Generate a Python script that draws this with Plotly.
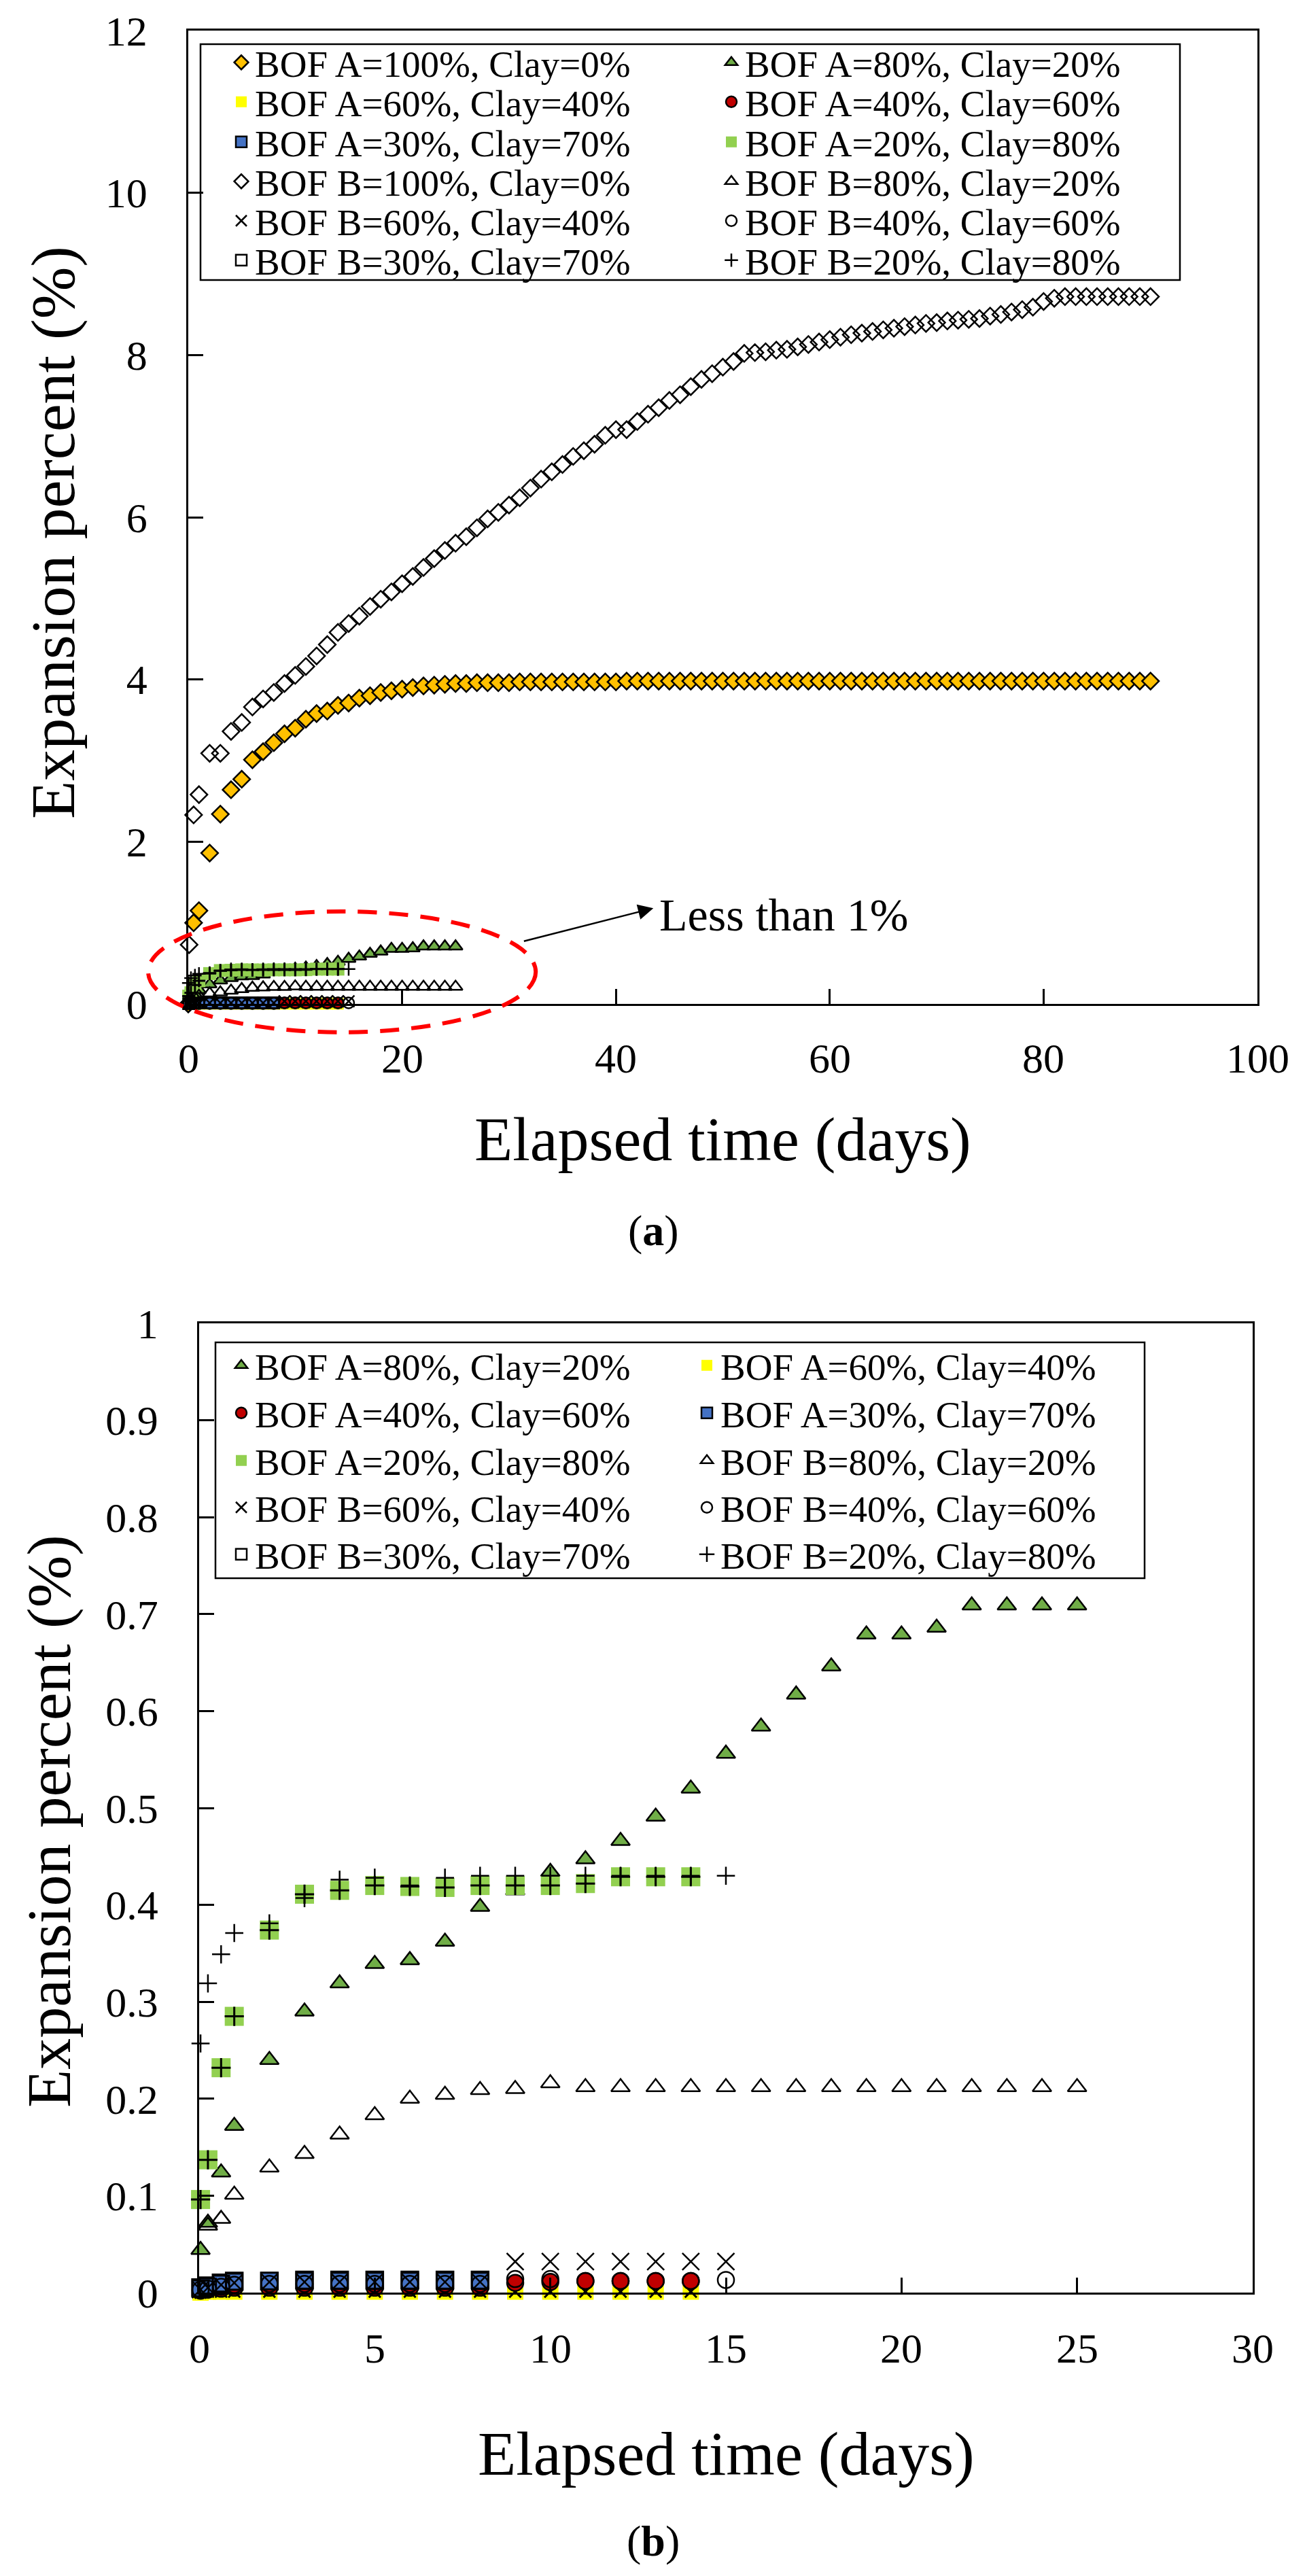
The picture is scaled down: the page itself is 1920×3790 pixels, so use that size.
import plotly.graph_objects as go

W, H = 1920, 3790
FONT = "Liberation Serif"

# ---- data ----
days_a100 = [0, 0.5, 1, 2, 3, 4, 5, 6, 7, 8, 9, 10,
             11, 12, 13, 14, 15, 16, 17, 18, 19, 20,
             21, 22, 23, 24, 25, 26, 27, 28, 29, 30,
             31, 32, 33, 34, 35, 36, 37, 38, 39, 40,
             41, 42, 43, 44, 45, 46, 47, 48, 49, 50,
             51, 52, 53, 54, 55, 56, 57, 58, 59, 60,
             61, 62, 63, 64, 65, 66, 67, 68, 69, 70,
             71, 72, 73, 74, 75, 76, 77, 78, 79, 80,
             81, 82, 83, 84, 85, 86, 87, 88, 89, 90]
exp_a100 = [0, 1.00, 1.15, 1.86, 2.34, 2.64, 2.77, 3.01, 3.11, 3.22, 3.33, 3.40,
            3.51, 3.58, 3.61, 3.68, 3.71, 3.77, 3.80, 3.84, 3.86, 3.88,
            3.90, 3.92, 3.93, 3.94, 3.95, 3.95, 3.96, 3.96, 3.96, 3.96,
            3.97, 3.97, 3.97, 3.97, 3.97, 3.97, 3.97, 3.97, 3.97, 3.97,
            3.98, 3.98, 3.98, 3.98, 3.98, 3.98, 3.98, 3.98, 3.98, 3.98,
            3.98, 3.98, 3.98, 3.98, 3.98, 3.98, 3.98, 3.98, 3.98, 3.98,
            3.98, 3.98, 3.98, 3.98, 3.98, 3.98, 3.98, 3.98, 3.98, 3.98,
            3.98, 3.98, 3.98, 3.98, 3.98, 3.98, 3.98, 3.98, 3.98, 3.98,
            3.98, 3.98, 3.98, 3.98, 3.98, 3.98, 3.98, 3.98, 3.98, 3.98]

days_b100 = [0, 0.08, 0.5, 1, 2, 3, 4, 5, 6, 7, 8, 9, 10,
             11, 12, 13, 14, 15, 16, 17, 18, 19, 20,
             21, 22, 23, 24, 25, 26, 27, 28, 29, 30,
             31, 32, 33, 34, 35, 36, 37, 38, 39, 40,
             41, 42, 43, 44, 45, 46, 47, 48, 49, 50,
             51, 52, 53, 54, 55, 56, 57, 58, 59, 60,
             61, 62, 63, 64, 65, 66, 67, 68, 69, 70,
             71, 72, 73, 74, 75, 76, 77, 78, 79, 80,
             81, 82, 83, 84, 85, 86, 87, 88, 89, 90]
exp_b100 = [0, 0.73, 2.33, 2.58, 3.09, 3.09, 3.36, 3.47, 3.66, 3.76, 3.84, 3.95, 4.05,
            4.16, 4.29, 4.43, 4.58, 4.69, 4.78, 4.90, 4.99, 5.08, 5.18,
            5.27, 5.38, 5.49, 5.59, 5.68, 5.76, 5.87, 5.98, 6.06, 6.15,
            6.24, 6.36, 6.47, 6.56, 6.65, 6.75, 6.82, 6.90, 7.01, 7.08,
            7.08, 7.18, 7.27, 7.35, 7.44, 7.51, 7.61, 7.70, 7.77, 7.85,
            7.92, 8.02, 8.03, 8.04, 8.06, 8.07, 8.10, 8.13, 8.16, 8.19,
            8.22, 8.25, 8.27, 8.29, 8.31, 8.33, 8.35, 8.37, 8.39, 8.40,
            8.42, 8.43, 8.44, 8.45, 8.48, 8.50, 8.53, 8.56, 8.59, 8.66,
            8.70, 8.72, 8.72, 8.72, 8.72, 8.72, 8.72, 8.72, 8.72, 8.72]

# mixtures, 0-25 days
days_mix = [0.04, 0.25, 0.625, 1, 2, 3, 4, 5, 6, 7, 8, 9, 10,
            11, 12, 13, 14, 15, 16, 17, 18, 19, 20, 21, 22, 23, 24, 25]
exp_a80 = [0.044, 0.072, 0.124, 0.172, 0.240, 0.290, 0.319, 0.339, 0.343, 0.362, 0.398, 0.415, 0.434,
           0.447, 0.466, 0.491, 0.520, 0.556, 0.584, 0.617, 0.646, 0.679, 0.679, 0.686, 0.709, 0.709, 0.709, 0.709]
exp_a60 = [0.000, 0.001, 0.001, 0.001, 0.001, 0.001, 0.001, 0.001, 0.001, 0.001, 0.001, 0.001, 0.001,
           0.001, 0.001, 0.001, 0.001]
exp_a40 = [0.002, 0.003, 0.004, 0.005, 0.005, 0.005, 0.005, 0.005, 0.005, 0.005, 0.005, 0.010, 0.011,
           0.012, 0.012, 0.012, 0.012]
exp_a30 = [0.005, 0.007, 0.010, 0.012, 0.012, 0.013, 0.013, 0.013, 0.013, 0.013, 0.013]
exp_a20 = [0.096, 0.137, 0.232, 0.285, 0.374, 0.411, 0.415, 0.420, 0.419, 0.418, 0.420, 0.420, 0.420,
           0.422, 0.429, 0.429, 0.429]
exp_b80 = [0.069, 0.076, 0.101, 0.129, 0.143, 0.163, 0.183, 0.200, 0.204, 0.209, 0.210, 0.216,
           0.212, 0.212, 0.212, 0.212, 0.212, 0.212, 0.212, 0.212, 0.212, 0.212, 0.212, 0.212, 0.212, 0.212, 0.212]
exp_b60 = [0.003, 0.005, 0.008, 0.010, 0.011, 0.011, 0.011, 0.011, 0.011, 0.011, 0.011, 0.032, 0.032,
           0.032, 0.032, 0.032, 0.032, 0.032]
exp_b40 = [0.003, 0.004, 0.006, 0.008, 0.009, 0.009, 0.009, 0.009, 0.009, 0.009, 0.009, 0.014, 0.014,
           0.012, 0.012, 0.012, 0.012, 0.013]
exp_b30 = [0.004, 0.006, 0.009, 0.011, 0.012, 0.012, 0.012, 0.012, 0.012, 0.012, 0.012]
exp_b20 = [0.257, 0.319, 0.349, 0.371, 0.381, 0.407, 0.426, 0.428, 0.420, 0.428, 0.430, 0.430, 0.430,
           0.430, 0.430, 0.430, 0.430, 0.430]

# x tick values of the two panels
xticks_a = [0, 20, 40, 60, 80, 100]
xticks_b = [0, 5, 10, 15, 20, 25, 30]

series = {
    "a100": ("BOF A=100%, Clay=0%", days_a100, exp_a100),
    "a80": ("BOF A=80%, Clay=20%", days_mix, exp_a80),
    "a60": ("BOF A=60%, Clay=40%", days_mix[:len(exp_a60)], exp_a60),
    "a40": ("BOF A=40%, Clay=60%", days_mix[:len(exp_a40)], exp_a40),
    "a30": ("BOF A=30%, Clay=70%", days_mix[:len(exp_a30)], exp_a30),
    "a20": ("BOF A=20%, Clay=80%", days_mix[:len(exp_a20)], exp_a20),
    "b100": ("BOF B=100%, Clay=0%", days_b100, exp_b100),
    "b80": ("BOF B=80%, Clay=20%", days_mix[1:], exp_b80),
    "b60": ("BOF B=60%, Clay=40%", days_mix[:len(exp_b60)], exp_b60),
    "b40": ("BOF B=40%, Clay=60%", days_mix[:len(exp_b40)], exp_b40),
    "b30": ("BOF B=30%, Clay=70%", days_mix[:len(exp_b30)], exp_b30),
    "b20": ("BOF B=20%, Clay=80%", days_mix[:len(exp_b20)], exp_b20),
}
order_a = ["a100", "a80", "a60", "a40", "a30", "a20", "b100", "b80", "b60", "b40", "b30", "b20"]
order_b = ["a80", "a60", "a40", "a30", "a20", "b80", "b60", "b40", "b30", "b20"]

# symbol, fill, outline width, size in (a), size in (b), overlay symbol drawn over a filled square
style = {
    "a100": ("diamond", "#FFC000", 2.5, 19, 19, None),
    "a80": ("triangle-up", "#70AD47", 2.5, 18, 24, None),
    "a60": ("square", "#FFFF00", 0, 17, 24, "x-thin-open"),
    "a40": ("circle", "#C00000", 2.5, 16, 24, None),
    "a30": ("square", "#4472C4", 2.5, 16, 25, None),
    "a20": ("square", "#92D050", 0, 19, 28, "cross-thin-open"),
    "b100": ("diamond-open", "black", 2.5, 19, 19, None),
    "b80": ("triangle-up-open", "black", 2.5, 18, 24, None),
    "b60": ("x-thin-open", "black", 2.5, 17, 25, None),
    "b40": ("circle-open", "black", 2.5, 16, 24, None),
    "b30": ("square-open", "black", 2.5, 16, 24, None),
    "b20": ("cross-thin-open", "black", 2.5, 14, 19, None),
}

# ---- layout geometry (pixels) ----
A_L, A_T, A_R, A_B = 277, 45, 1850, 1477
B_L, B_T, B_R, B_B = 293, 1947, 1843, 3373
LEG_A = dict(box=(295, 65, 1736, 412), rows=[92, 150, 209, 267, 325, 383], x=335, ew=676)
LEG_B = dict(box=(317, 1975, 1684, 2322), rows=[2009, 2079, 2149, 2218, 2287], x=335, ew=640)

fig = go.Figure()


def add_panel(order, xa, ya, legend_ids, which):
    for i, key in enumerate(order):
        name, xs, ys = series[key]
        sym, fill, lw, size_a, size_b, over = style[key]
        size = size_a if which == "a" else size_b
        leg = legend_ids[i // 2]
        fig.add_trace(go.Scatter(
            x=xs, y=ys, mode="markers", name=name, xaxis=xa, yaxis=ya,
            legend=leg, cliponaxis=False,
            marker=dict(symbol=sym, color=fill, size=size,
                        line=dict(color="black", width=lw)),
        ))
        if over:
            fig.add_trace(go.Scatter(
                x=xs, y=ys, mode="markers", xaxis=xa, yaxis=ya, showlegend=False,
                legend=leg, cliponaxis=False, hoverinfo="skip",
                marker=dict(symbol=over, color="black", size=size * 0.72,
                            line=dict(color="black", width=3)),
            ))


legs_a = ["legend", "legend2", "legend3", "legend4", "legend5", "legend6"]
legs_b = ["legend7", "legend8", "legend9", "legend10", "legend11"]
add_panel(order_a, "x", "y", legs_a, "a")
add_panel(order_b, "x2", "y2", legs_b, "b")

TICKFONT = dict(family=FONT, size=62, color="black")


def axis(dom_px, vertical, rng, dtick, labstand=0):
    if vertical:
        dom = [1 - dom_px[1] / H, 1 - dom_px[0] / H]
    else:
        dom = [dom_px[0] / W, dom_px[1] / W]
    return dict(domain=dom, range=rng, dtick=dtick, tick0=0, showgrid=False, zeroline=False,
                showline=True, linecolor="black", linewidth=2.5, mirror=True,
                ticks="inside", ticklen=22, tickwidth=2.5, tickcolor="black",
                ticklabelstandoff=labstand, showticklabels=vertical, tickfont=TICKFONT)


layout = dict(
    width=W, height=H, autosize=False,
    margin=dict(l=0, r=0, t=0, b=0, pad=0, autoexpand=False),
    paper_bgcolor="white", plot_bgcolor="white",
    font=dict(family=FONT, color="black"),
    xaxis=dict(axis((A_L, A_R), False, [0, 100], 20), anchor="y"),
    yaxis=dict(axis((A_T, A_B), True, [0, 12], 2, 45), anchor="x"),
    xaxis2=dict(axis((B_L, B_R), False, [0, 30], 5), anchor="y2"),
    yaxis2=dict(axis((B_T, B_B), True, [0, 1], 0.1, 45), anchor="x2"),
)

for leg_cfg, ids in ((LEG_A, legs_a), (LEG_B, legs_b)):
    for lid, ry in zip(ids, leg_cfg["rows"]):
        layout[lid] = dict(orientation="h", x=leg_cfg["x"] / W, xanchor="left",
                           y=1 - ry / H, yanchor="middle", bgcolor="rgba(0,0,0,0)",
                           borderwidth=0, itemsizing="trace", traceorder="normal",
                           entrywidth=leg_cfg["ew"], entrywidthmode="pixels",
                           font=dict(family=FONT, size=55, color="black"))

fig.update_layout(**layout)

# legend frames
for cfg in (LEG_A, LEG_B):
    x0, y0, x1, y1 = cfg["box"]
    fig.add_shape(type="rect", xref="paper", yref="paper",
                  x0=x0 / W, x1=x1 / W, y0=1 - y1 / H, y1=1 - y0 / H,
                  line=dict(color="black", width=2.5), fillcolor="white", layer="below")


# dashed ellipse around the small values in (a) (in data units, converted to paper so it is not clipped)
def a_to_paper(xv, yv):
    px = A_L + xv / 100 * (A_R - A_L)
    py = A_B - yv / 12 * (A_B - A_T)
    return px / W, 1 - py / H


ex0, ey0 = a_to_paper(-3.75, -0.35)
ex1, ey1 = a_to_paper(32.5, 1.14)
fig.add_shape(type="circle", xref="paper", yref="paper", x0=ex0, y0=ey0, x1=ex1, y1=ey1,
              line=dict(color="#FF0000", width=6, dash="28px,18px"), layer="above")

fig.add_annotation(x=43.5, y=1.18, xref="x", yref="y", ax=31.3, ay=0.77, axref="x", ayref="y",
                   text="", showarrow=True, arrowhead=2, arrowsize=1.8, arrowwidth=2.5,
                   arrowcolor="black", standoff=0)
fig.add_annotation(x=43.9, y=1.1, xref="x", yref="y", text="Less than 1%", showarrow=False,
                   xanchor="left", yanchor="middle", font=dict(family=FONT, size=68, color="black"))


def text_at(px, py, txt, size, angle=0):
    fig.add_annotation(x=px / W, y=1 - py / H, xref="paper", yref="paper", text=txt,
                       showarrow=False, textangle=angle, xanchor="center", yanchor="middle",
                       font=dict(family=FONT, size=size, color="black"))


# x tick labels, set below the axis as in the original
for xref, ticks, ypx in (("x", xticks_a, 1557), ("x2", xticks_b, 3455)):
    for v in ticks:
        fig.add_annotation(x=v, xref=xref, y=1 - ypx / H, yref="paper", text=str(v),
                           showarrow=False, xanchor="center", yanchor="middle", font=TICKFONT)

# axis titles
text_at((A_L + A_R) / 2, 1676, "Elapsed time (days)", 92)
text_at(78, 784, "Expansion percent (%)", 92, -90)
text_at((B_L + B_R) / 2, 3610, "Elapsed time (days)", 92)
text_at(72, 2680, "Expansion percent (%)", 92, -90)

# panel labels
text_at(961, 1811, "(<b>a</b>)", 64)
text_at(961, 3738, "(<b>b</b>)", 64)

fig.write_html("out.html", config={"displayModeBar": False},
               post_script="document.body.style.margin = '0';")
